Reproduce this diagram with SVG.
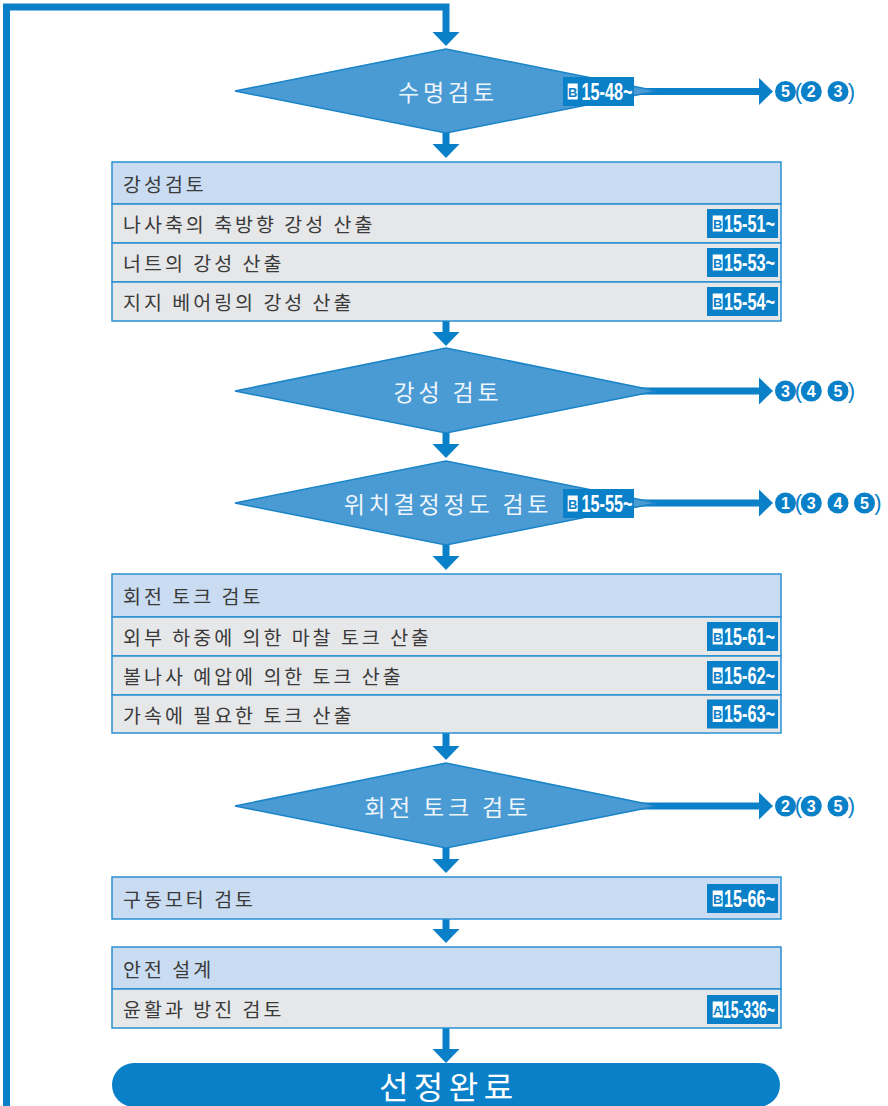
<svg xmlns="http://www.w3.org/2000/svg" width="888" height="1106" viewBox="0 0 888 1106">
<style>
.ln{fill:none;stroke:#0a80c8;stroke-width:7}
.hd{fill:#0a80c8}
.dia{fill:#4a9ad4;stroke:#1a84c8;stroke-width:1.5}
.dt{font-family:"Noto Sans CJK KR","Noto Sans",sans-serif;font-size:23px;letter-spacing:3.8px;fill:#eef5fb;text-anchor:middle;dominant-baseline:central}
.hdr{fill:#c9dcf1;stroke:#2a90d2;stroke-width:1.5}
.row{fill:#e6e7e9;stroke:#2a90d2;stroke-width:1.5}
.bt{font-family:"Noto Sans CJK KR","Noto Sans",sans-serif;font-size:19.5px;letter-spacing:3px;fill:#3a3a3a;dominant-baseline:central}
.bdg{fill:#0a80c8}
.bsq{fill:#ffffff}
.bl{font-family:"Liberation Sans Narrow","Liberation Sans",sans-serif;font-weight:bold;font-size:13px;fill:#0a80c8;text-anchor:middle}
.bn{font-family:"Liberation Sans Narrow","Liberation Sans",sans-serif;font-weight:bold;font-size:23px;fill:#ffffff}
.cc{fill:#0a80c8}
.cn{font-family:"Liberation Sans",sans-serif;font-weight:bold;font-size:16px;fill:#ffffff;text-anchor:middle;dominant-baseline:central}
.par{font-family:"Liberation Sans Narrow","Liberation Sans",sans-serif;font-size:22px;fill:#0a80c8;text-anchor:middle;dominant-baseline:central}
</style>

<g id="connectors">
  <path class="ln" d="M6.5,1106 V7 H446 V33"/>
  <polygon class="hd" points="432.5,32 459.5,32 446,46"/>
  <path class="ln" d="M446,133 V145"/>
  <polygon class="hd" points="432.5,144 459.5,144 446,158"/>
  <path class="ln" d="M446,321 V333"/>
  <polygon class="hd" points="432.5,332 459.5,332 446,346"/>
  <path class="ln" d="M446,433 V445"/>
  <polygon class="hd" points="432.5,444 459.5,444 446,458"/>
  <path class="ln" d="M446,545 V557"/>
  <polygon class="hd" points="432.5,556 459.5,556 446,570"/>
  <path class="ln" d="M446,733 V747"/>
  <polygon class="hd" points="432.5,746 459.5,746 446,760"/>
  <path class="ln" d="M446,848 V860"/>
  <polygon class="hd" points="432.5,859 459.5,859 446,873"/>
  <path class="ln" d="M446,919 V930"/>
  <polygon class="hd" points="432.5,929 459.5,929 446,943"/>
  <path class="ln" d="M446,1028 V1050"/>
  <polygon class="hd" points="432.5,1049 459.5,1049 446,1063"/>

  <path class="ln" d="M634,91.5 H761"/>
  <polygon class="hd" points="759,78 773,91.5 759,105"/>
  <path class="ln" d="M640,391 H761"/>
  <polygon class="hd" points="759,377.5 773,391 759,404.5"/>
  <path class="ln" d="M634,503 H761"/>
  <polygon class="hd" points="759,489.5 773,503 759,516.5"/>
  <path class="ln" d="M640,806 H761"/>
  <polygon class="hd" points="759,792.5 773,806 759,819.5"/>
</g>

<g id="d1">
  <polygon class="dia" points="235,91 446,49 657,91 446,133"/>
  <text class="dt" x="448" y="91">수명검토</text>
  <rect class="bdg" x="563" y="77" width="71" height="29"/>
  <rect class="bsq" x="567.7" y="83.5" width="10" height="16"/>
  <text class="bl" x="572.7" y="96.5">B</text>
  <text class="bn" x="581.5" y="99.5" textLength="51" lengthAdjust="spacingAndGlyphs">15-48~</text>
</g>
<g id="r1">
  <circle class="cc" cx="785.5" cy="91.5" r="10.5"/><text class="cn" x="785.5" y="91.5">5</text>
  <text class="par" x="798.5" y="91">(</text>
  <circle class="cc" cx="811.3" cy="91.5" r="10.5"/><text class="cn" x="811.3" y="91.5">2</text>
  <circle class="cc" cx="838" cy="91.5" r="10.5"/><text class="cn" x="838" y="91.5">3</text>
  <text class="par" x="851.5" y="91">)</text>
</g>

<g id="box1">
  <rect class="hdr" x="112" y="162" width="669" height="42"/>
  <text class="bt" x="123" y="183">강성검토</text>
  <rect class="row" x="112" y="204" width="669" height="39"/>
  <text class="bt" x="123" y="223.5">나사축의 축방향 강성 산출</text>
  <rect class="bdg" x="707" y="209" width="71" height="29"/>
  <rect class="bsq" x="712.7" y="215.5" width="10" height="16"/>
  <text class="bl" x="717.7" y="228.5">B</text>
  <text class="bn" x="724" y="231.5" textLength="51" lengthAdjust="spacingAndGlyphs">15-51~</text>
  <rect class="row" x="112" y="243" width="669" height="39"/>
  <text class="bt" x="123" y="262.5">너트의 강성 산출</text>
  <rect class="bdg" x="707" y="248" width="71" height="29"/>
  <rect class="bsq" x="712.7" y="254.5" width="10" height="16"/>
  <text class="bl" x="717.7" y="267.5">B</text>
  <text class="bn" x="724" y="270.5" textLength="51" lengthAdjust="spacingAndGlyphs">15-53~</text>
  <rect class="row" x="112" y="282" width="669" height="39"/>
  <text class="bt" x="123" y="301.5">지지 베어링의 강성 산출</text>
  <rect class="bdg" x="707" y="287" width="71" height="29"/>
  <rect class="bsq" x="712.7" y="293.5" width="10" height="16"/>
  <text class="bl" x="717.7" y="306.5">B</text>
  <text class="bn" x="724" y="309.5" textLength="51" lengthAdjust="spacingAndGlyphs">15-54~</text>
</g>

<g id="d2">
  <polygon class="dia" points="235,391 446,348 657,391 446,433"/>
  <text class="dt" x="448" y="391">강성 검토</text>
</g>
<g id="r2">
  <circle class="cc" cx="785.5" cy="391" r="10.5"/><text class="cn" x="785.5" y="391">3</text>
  <text class="par" x="798.5" y="390.5">(</text>
  <circle class="cc" cx="811.3" cy="391" r="10.5"/><text class="cn" x="811.3" y="391">4</text>
  <circle class="cc" cx="838" cy="391" r="10.5"/><text class="cn" x="838" y="391">5</text>
  <text class="par" x="851.5" y="390.5">)</text>
</g>

<g id="d3">
  <polygon class="dia" points="235,503 446,461 657,503 446,545"/>
  <text class="dt" x="448" y="503">위치결정정도 검토</text>
  <rect class="bdg" x="563" y="489" width="71" height="29"/>
  <rect class="bsq" x="567.7" y="495.5" width="10" height="16"/>
  <text class="bl" x="572.7" y="508.5">B</text>
  <text class="bn" x="581.5" y="511.5" textLength="51" lengthAdjust="spacingAndGlyphs">15-55~</text>
</g>
<g id="r3">
  <circle class="cc" cx="785.5" cy="503" r="10.5"/><text class="cn" x="785.5" y="503">1</text>
  <text class="par" x="798.5" y="502.5">(</text>
  <circle class="cc" cx="811.3" cy="503" r="10.5"/><text class="cn" x="811.3" y="503">3</text>
  <circle class="cc" cx="838" cy="503" r="10.5"/><text class="cn" x="838" y="503">4</text>
  <circle class="cc" cx="864.5" cy="503" r="10.5"/><text class="cn" x="864.5" y="503">5</text>
  <text class="par" x="878" y="502.5">)</text>
</g>

<g id="box2">
  <rect class="hdr" x="112" y="574" width="669" height="43"/>
  <text class="bt" x="123" y="595.5">회전 토크 검토</text>
  <rect class="row" x="112" y="617" width="669" height="39"/>
  <text class="bt" x="123" y="636.5">외부 하중에 의한 마찰 토크 산출</text>
  <rect class="bdg" x="707" y="622" width="71" height="29"/>
  <rect class="bsq" x="712.7" y="628.5" width="10" height="16"/>
  <text class="bl" x="717.7" y="641.5">B</text>
  <text class="bn" x="724" y="644.5" textLength="51" lengthAdjust="spacingAndGlyphs">15-61~</text>
  <rect class="row" x="112" y="656" width="669" height="39"/>
  <text class="bt" x="123" y="675.5">볼나사 예압에 의한 토크 산출</text>
  <rect class="bdg" x="707" y="661" width="71" height="29"/>
  <rect class="bsq" x="712.7" y="667.5" width="10" height="16"/>
  <text class="bl" x="717.7" y="680.5">B</text>
  <text class="bn" x="724" y="683.5" textLength="51" lengthAdjust="spacingAndGlyphs">15-62~</text>
  <rect class="row" x="112" y="695" width="669" height="38"/>
  <text class="bt" x="123" y="714">가속에 필요한 토크 산출</text>
  <rect class="bdg" x="707" y="699.5" width="71" height="29"/>
  <rect class="bsq" x="712.7" y="706" width="10" height="16"/>
  <text class="bl" x="717.7" y="719">B</text>
  <text class="bn" x="724" y="722" textLength="51" lengthAdjust="spacingAndGlyphs">15-63~</text>
</g>

<g id="d4">
  <polygon class="dia" points="235,806 446,763 657,806 446,848"/>
  <text class="dt" x="448" y="806">회전 토크 검토</text>
</g>
<g id="r4">
  <circle class="cc" cx="785.5" cy="806" r="10.5"/><text class="cn" x="785.5" y="806">2</text>
  <text class="par" x="798.5" y="805.5">(</text>
  <circle class="cc" cx="811.3" cy="806" r="10.5"/><text class="cn" x="811.3" y="806">3</text>
  <circle class="cc" cx="838" cy="806" r="10.5"/><text class="cn" x="838" y="806">5</text>
  <text class="par" x="851.5" y="805.5">)</text>
</g>

<g id="box3">
  <rect class="hdr" x="112" y="877" width="669" height="42"/>
  <text class="bt" x="123" y="898">구동모터 검토</text>
  <rect class="bdg" x="707" y="884" width="71" height="29"/>
  <rect class="bsq" x="712.7" y="890.5" width="10" height="16"/>
  <text class="bl" x="717.7" y="903.5">B</text>
  <text class="bn" x="724" y="906.5" textLength="51" lengthAdjust="spacingAndGlyphs">15-66~</text>
</g>

<g id="box4">
  <rect class="hdr" x="112" y="947" width="669" height="42"/>
  <text class="bt" x="123" y="968">안전 설계</text>
  <rect class="row" x="112" y="989" width="669" height="39"/>
  <text class="bt" x="123" y="1008.5">윤활과 방진 검토</text>
  <rect class="bdg" x="707" y="995" width="71" height="29"/>
  <rect class="bsq" x="712.7" y="1001.5" width="10" height="16"/>
  <text class="bl" x="717.7" y="1014.5">A</text>
  <text class="bn" x="723" y="1017.5" textLength="52" lengthAdjust="spacingAndGlyphs">15-336~</text>
</g>

<g id="end">
  <rect x="112" y="1063" width="668" height="44" rx="22" fill="#0a80c8"/>
  <text x="448.8" y="1085" font-family="Noto Sans CJK KR, Noto Sans, sans-serif" font-size="32" letter-spacing="5.5" fill="#ffffff" text-anchor="middle" dominant-baseline="central">선정완료</text>
</g>
</svg>
